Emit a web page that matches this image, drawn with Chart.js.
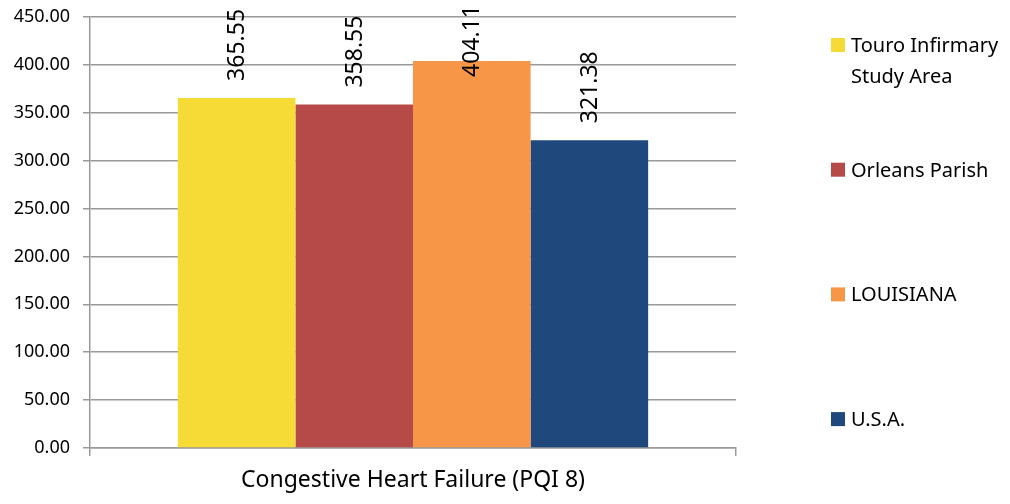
<!DOCTYPE html>
<html>
<head>
<meta charset="utf-8">
<script src="https://cdn.jsdelivr.net/npm/chart.js@4/dist/chart.umd.min.js"></script>
<style>
  html, body { margin: 0; padding: 0; background: #fff; }
  #wrap { width: 1010px; height: 504px; }
</style>
</head>
<body>
<div id="wrap"><canvas id="pqiChart" width="1010" height="504"></canvas></div>
<script>
// PQI 8 rates by area
const categories = ['Congestive Heart Failure (PQI 8)'];
const seriesLabels = [['Touro Infirmary', 'Study Area'], ['Orleans Parish'], ['LOUISIANA'], ['U.S.A.']];
const seriesValues = [365.55, 358.55, 404.11, 321.38];
const seriesColors = ['#F6DB36', '#B54A49', '#F79646', '#1F497D'];
const yMin = 0;
const yMax = 450;
const yStep = 50;

const FONT = 'Noto Sans';
const GRID = '#9a9a9a';

/** Draws the rotated value above each bar. */
const valueLabels = {
    id: 'valueLabels',
    afterDatasetsDraw(chart) {
        const ctx = chart.ctx;
        ctx.save();
        ctx.font = `23px "${FONT}"`;
        ctx.fillStyle = '#000';
        ctx.textAlign = 'left';
        ctx.textBaseline = 'middle';
        chart.data.datasets.forEach((ds, i) => {
            const bar = chart.getDatasetMeta(i).data[0];
            const text = ds.data[0].toFixed(2);
            const w = ctx.measureText(text).width;
            let start = bar.y - 17;
            // keep the label inside the canvas when the bar is tall
            if (start - w < 5) start = 5 + w;
            ctx.save();
            ctx.translate(bar.x + 1, start);
            ctx.rotate(-Math.PI / 2);
            ctx.fillText(text, 0, 0);
            ctx.restore();
        });
        ctx.restore();
    }
};

/** Right-hand legend, one item per series, spread down the side. */
const sideLegend = {
    id: 'sideLegend',
    afterDraw(chart) {
        const ctx = chart.ctx;
        ctx.save();
        ctx.font = `20px "${FONT}"`;
        ctx.fillStyle = '#000';
        ctx.textAlign = 'left';
        ctx.textBaseline = 'alphabetic';
        seriesLabels.forEach((lines, i) => {
            const top = 38 + i * 124.7;
            ctx.fillStyle = seriesColors[i];
            ctx.fillRect(831, top, 14, 14);
            ctx.fillStyle = '#000';
            lines.forEach((line, j) => {
                ctx.fillText(line, 851, top + 14 + j * 31);
            });
        });
        ctx.restore();
    }
};

const datasets = seriesValues.map((v, i) => ({
    label: seriesLabels[i].join(' '),
    data: [v],
    backgroundColor: seriesColors[i],
    borderWidth: 0,
    barPercentage: 1,
    categoryPercentage: 0.728
}));

new Chart(document.getElementById('pqiChart'), {
    type: 'bar',
    data: { labels: categories, datasets: datasets },
    plugins: [valueLabels, sideLegend],
    options: {
        responsive: false,
        animation: false,
        layout: { padding: { top: 17, right: 274, left: 0, bottom: 0 } },
        plugins: {
            legend: { display: false },
            tooltip: { enabled: false }
        },
        scales: {
            x: {
                offset: true,
                grid: {
                    display: true,
                    drawOnChartArea: false,
                    offset: true,
                    tickLength: 8,
                    color: GRID,
                    lineWidth: 1.5
                },
                border: { color: GRID, width: 1.5 },
                ticks: {
                    color: '#000',
                    padding: 11,
                    font: { family: FONT, size: 23 }
                },
                afterFit(scale) {
                    scale.height = 56;
                    scale.paddingLeft = 0;
                    scale.paddingRight = 0;
                }
            },
            y: {
                min: yMin,
                max: yMax,
                grid: { color: GRID, lineWidth: 1.5, tickLength: 7 },
                border: { color: GRID, width: 1.5 },
                ticks: {
                    stepSize: yStep,
                    color: '#000',
                    padding: 13,
                    font: { family: FONT, size: 18 },
                    callback: (v) => v.toFixed(2)
                },
                afterFit(scale) {
                    scale.width = 90;
                    scale.paddingTop = 0;
                    scale.paddingBottom = 0;
                }
            }
        }
    }
});
</script>
</body>
</html>
